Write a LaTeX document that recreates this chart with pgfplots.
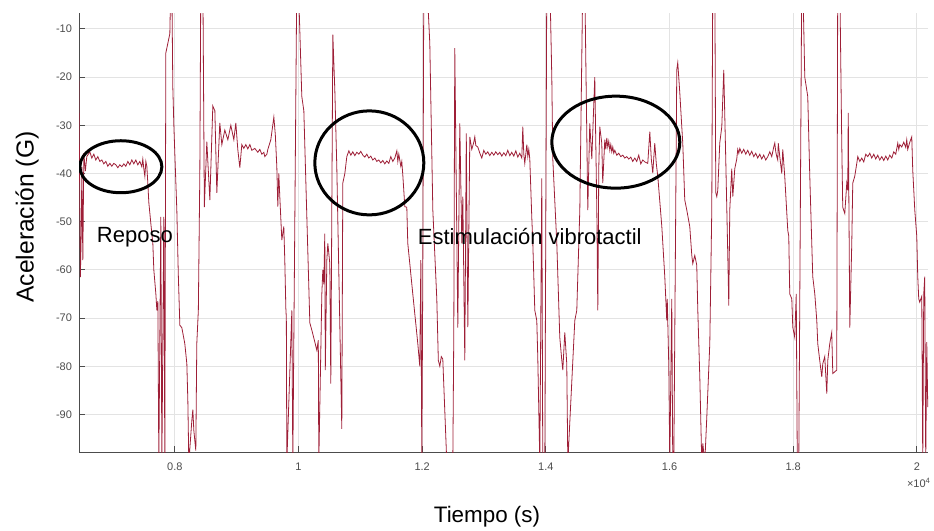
\documentclass[border=0pt]{standalone}
\usepackage{fontspec}
\setmainfont{Liberation Sans}
\usepackage{pgfplots}
\pgfplotsset{compat=1.18}

\definecolor{sig}{rgb}{0.635,0.078,0.184}
\definecolor{gridc}{gray}{0.89}
\definecolor{axc}{gray}{0.3}

\begin{document}
\begin{tikzpicture}
\begin{axis}[
    name=ax,
    scale only axis,
    width=424.5pt, height=219.5pt,
    xmin=6450, xmax=20180,
    ymin=-97.8, ymax=-6.7,
    axis x line*=bottom, axis y line*=left,
    axis line style={axc, line width=0.5pt},
    xtick={8000,10000,...,20000},
    xticklabels={0.8,1,1.2,1.4,1.6,1.8,2},
    scaled x ticks=false,
    ytick={-90,-80,...,-10},
    tick align=inside,
    major tick length=3pt,
    tick style={axc, line width=0.5pt},
    grid=major,
    major grid style={gridc, line width=0.5pt},
    ticklabel style={font=\fontsize{5.5}{6}\selectfont, text=axc},
    /pgf/number format/assume math mode=true,
    xticklabel style={yshift=-2pt},
]
% acceleration trace (0 / -100 = off the plot)
\addplot[sig!90!gray, line width=0.4pt] coordinates {
(6447,-20) (6464,-47.6) (6472,-61.5) (6488,-51) (6496,-38.6) (6512,-58) (6528,-35.8)
(6553,-39.5) (6576,-36.5) (6625,-35.5) (6657,-36.8) (6690,-36) (6722,-37.2) (6754,-36.5)
(6787,-37.5) (6819,-37.2) (6851,-38) (6884,-37.5) (6916,-38.5) (6949,-37.9) (6981,-38.5)
(7013,-37.9) (7046,-38.2) (7078,-38.8) (7110,-38.2) (7143,-38.6) (7175,-38) (7207,-38.5)
(7240,-37.5) (7272,-38.2) (7304,-37.2) (7337,-38) (7369,-37.2) (7401,-38.2) (7434,-37.5)
(7466,-38.6) (7482,-37) (7498,-39) (7515,-40.6) (7531,-37.5) (7547,-38.5) (7563,-42)
(7579,-46) (7612,-50.4) (7644,-54.5) (7660,-60) (7693,-65) (7709,-68.4) (7725,-66.5)
(7741,-100) (7773,-49) (7790,-100) (7822,-49) (7838,-100) (7854,-15) (7919,-11) (7935,0)
(7951,0) (7967,-22) (7984,-30) (8000,-36) (8032,-47.6) (8056,-61) (8081,-71.5) (8113,-72)
(8161,-75.3) (8194,-79.5) (8210,-87) (8226,-100) (8275,-91.2) (8291,-89) (8307,-93.3)
(8339,-97.5) (8355,-75.3) (8380,-68.4) (8404,-40) (8420,0) (8453,0) (8477,-47)
(8517,-33.4) (8566,-45.5) (8614,-26) (8647,-27) (8679,-44) (8727,-29.5) (8760,-34)
(8808,-31) (8857,-33) (8905,-30) (8954,-33) (8986,-29.5) (9018,-35) (9051,-38.8)
(9083,-34) (9115,-34.8) (9148,-34) (9180,-34.9) (9213,-34) (9245,-35.2) (9293,-34.8)
(9342,-35.6) (9374,-35) (9407,-36) (9439,-35.6) (9455,-36.5) (9488,-36) (9504,-35)
(9552,-33) (9601,-28.3) (9625,-32) (9649,-38.6) (9665,-46.9) (9681,-40)
(9698,-45) (9730,-53.8) (9762,-51) (9778,-58) (9795,-68) (9803,-70) (9811,-100)
(9892,-68.4) (9908,-100) (9940,-50) (9972,0) (9989,0) (10013,-7) (10053,-24) (10086,-27)
(10183,-71) (10215,-72.5) (10264,-75) (10296,-76.7) (10320,-74.6) (10328,-100)
(10377,-65) (10393,-60) (10409,-63) (10425,-52.5) (10433,-80.8) (10458,-58) (10474,-54.5)
(10506,-58.7) (10522,-83.6) (10555,-11.2) (10587,-22.7) (10619,-38.6) (10700,-93)
(10716,-42) (10749,-40) (10781,-36.5) (10814,-35.3) (10846,-36.2) (10878,-35.5)
(10910,-36.3) (10943,-35.6) (10975,-36) (11007,-35.4) (11040,-36.2) (11072,-36.6)
(11104,-36) (11137,-36.8) (11169,-36.4) (11201,-37.2) (11234,-36.8) (11266,-37.5)
(11298,-37.2) (11331,-37.8) (11363,-37.3) (11395,-38) (11428,-37.4) (11460,-37.9)
(11492,-36.5) (11525,-37.5) (11557,-36.8) (11590,-35.3) (11606,-37.5) (11622,-36)
(11654,-38.5) (11670,-37.5) (11687,-40.4) (11719,-46.9) (11751,-47) (11767,-54.5)
(11848,-65) (11929,-75.3) (11961,-80) (11978,-58) (11994,-100) (12010,-60) (12026,0)
(12075,0) (12123,-13) (12172,-47.6) (12236,-66) (12261,-78.8) (12285,-80) (12309,-78)
(12333,-78.5) (12398,-100) (12495,-100) (12511,-73) (12527,-14) (12576,-72) (12608,-29.6)
(12641,-54.5) (12657,-44.8) (12689,-78.8) (12713,-31.7) (12738,-71.9) (12770,-32.4)
(12802,-35) (12835,-33.5) (12851,-32.4) (12867,-34.2) (12899,-34.5) (12932,-35.8)
(12964,-36.8) (12996,-35.2) (13029,-36) (13061,-35.5) (13093,-36.3) (13126,-35.6)
(13158,-36.2) (13190,-35.5) (13223,-36.1) (13255,-35.6) (13287,-36.4) (13320,-35.7)
(13352,-36.3) (13384,-35.2) (13417,-36.3) (13449,-35.6) (13481,-36.4) (13514,-35.3)
(13546,-36.6) (13578,-35.8) (13611,-36.8) (13627,-30.3) (13643,-36) (13659,-37.9)
(13692,-34) (13708,-36.5) (13724,-35) (13740,-37) (13772,-49) (13789,-54.5) (13821,-68.4)
(13853,-70.5) (13869,-78) (13902,-100) (13934,-41) (13950,-100) (13983,-100) (14015,0)
(14064,0) (14096,-20) (14112,-37) (14177,-54.5) (14225,-74) (14258,-78.8) (14274,-80.8)
(14306,-73) (14338,-79.5) (14355,-100) (14468,-70.5) (14500,-68.4) (14549,-47.6)
(14597,0) (14629,0) (14678,-47.6) (14710,-29.6) (14743,-37) (14791,-20) (14824,-47.6)
(14840,-68.4) (14856,-38.6) (14872,-30.3) (14904,-33.7) (14920,-42) (14953,-33)
(14969,-35) (14985,-32.6) (15001,-34.5) (15017,-33.3) (15034,-35.2) (15050,-34)
(15066,-35.5) (15082,-34.5) (15098,-35.8) (15115,-35.2) (15147,-36.2) (15179,-35.8)
(15211,-36.5) (15244,-36.2) (15276,-36.8) (15308,-36.5) (15341,-37) (15373,-36.6)
(15405,-37.5) (15438,-36.8) (15470,-37.5) (15502,-36.2) (15535,-38) (15567,-37.2)
(15600,-37.6) (15648,-37.9) (15681,-31.3) (15705,-37) (15729,-39.9) (15761,-33.7)
(15786,-38) (15810,-40.6) (15875,-51) (15923,-61.4) (15955,-70.5) (15963,-66)
(15988,-80) (16004,-100) (16036,-66) (16052,-100) (16069,-100) (16117,-18.5) (16133,-17)
(16166,-23.3) (16198,-30.3) (16214,-33.7) (16246,-45.5) (16279,-47.6) (16327,-51)
(16360,-57) (16376,-58.7) (16408,-57) (16440,-59) (16457,-68.4) (16489,-82) (16521,-100)
(16538,-96) (16570,-100) (16602,-90.7) (16651,-75.3) (16683,-47.6) (16699,0) (16732,0)
(16748,-44) (16764,-44.8) (16780,-43.5) (16812,-33.7) (16845,-30.3) (16877,-18.5)
(16909,-37) (16942,-57) (16958,-67.4) (16974,-47.6) (17006,-39) (17023,-44.8) (17055,-39)
(17087,-37) (17103,-35) (17120,-35.8) (17136,-34.8) (17168,-35.8) (17200,-35) (17233,-36)
(17265,-35.2) (17297,-36.2) (17329,-35.4) (17362,-36.5) (17394,-35.8) (17426,-36.8)
(17459,-36) (17491,-37) (17523,-36.2) (17556,-37.2) (17589,-36.5) (17621,-35.5)
(17653,-36.5) (17685,-34.5) (17702,-33.7) (17718,-35.5) (17734,-36.5) (17750,-37.2)
(17758,-33.7) (17783,-36.5) (17815,-40) (17831,-35) (17863,-40.6) (17912,-51.8)
(17928,-53) (17944,-65) (17977,-66) (17993,-71.9) (18025,-74) (18049,-65) (18066,-100)
(18090,-100) (18138,0) (18155,0) (18187,-20) (18235,-24) (18268,-40.6) (18316,-61.4)
(18349,-65) (18381,-70.5) (18397,-75.3) (18429,-78.8) (18462,-82.2) (18478,-79.5)
(18510,-78) (18543,-85.7) (18559,-78.8) (18591,-75.3) (18623,-73) (18640,-81.5)
(18704,-80.8) (18720,0) (18753,0) (18785,-33.7) (18801,-47) (18834,-48.3) (18866,-42)
(18882,-43.5) (18890,-27.4) (18915,-72) (18947,-54.5) (18963,-42) (18995,-40.6)
(19028,-37.9) (19044,-36.5) (19077,-37.5) (19109,-36.8) (19141,-37.6) (19173,-36)
(19206,-36.5) (19238,-35.8) (19270,-36.8) (19303,-36) (19335,-37) (19367,-36.2)
(19400,-37.2) (19432,-36.5) (19464,-37.3) (19497,-36.4) (19529,-37.2) (19561,-36.2)
(19594,-36.8) (19626,-35.5) (19658,-36) (19691,-33.7) (19707,-35) (19723,-34)
(19755,-34.5) (19788,-33.5) (19820,-34.6) (19836,-33) (19852,-35) (19885,-33.5)
(19917,-32.4) (19933,-39.3) (19966,-47.6) (19998,-53) (20014,-61.4) (20030,-66)
(20046,-66.7) (20079,-65.5) (20095,-100) (20111,-65) (20127,-61.4) (20143,-100)
(20160,-75) (20176,-88.5)
};
% annotations
\draw[black, line width=1.5pt] (axis cs:7127,-38.6) ellipse [x radius=20.5pt, y radius=13pt];
\draw[black, line width=1.5pt] (axis cs:11145,-37.8) ellipse [x radius=27.25pt, y radius=26pt];
\draw[black, line width=1.5pt] (axis cs:15131,-33.5) ellipse [x radius=32pt, y radius=23pt];
\node[anchor=base, font=\fontsize{11}{13}\selectfont] at (axis cs:7353,-54.4) {Reposo};
\node[anchor=base, font=\fontsize{11}{13}\selectfont] at (axis cs:13740,-54.8) {Estimulación vibrotactil};
\end{axis}
\node[anchor=base, font=\fontsize{11.2}{13}\selectfont] at ([shift={(204pt,-35pt)}]ax.south west) {Tiempo (s)};
\node[rotate=90, font=\fontsize{12.3}{14}\selectfont] at ([shift={(-26pt,117.5pt)}]ax.south west) {Aceleración (G)};
\node[font=\fontsize{5.5}{6}\selectfont, text=axc] at ([shift={(420pt,-15.5pt)}]ax.south west) {×10\textsuperscript{4}};
\pgfresetboundingbox
\path ([shift={(-39.5pt,-39pt)}]ax.south west) rectangle ([shift={(3pt,6.5pt)}]ax.north east);
\end{tikzpicture}
\end{document}
